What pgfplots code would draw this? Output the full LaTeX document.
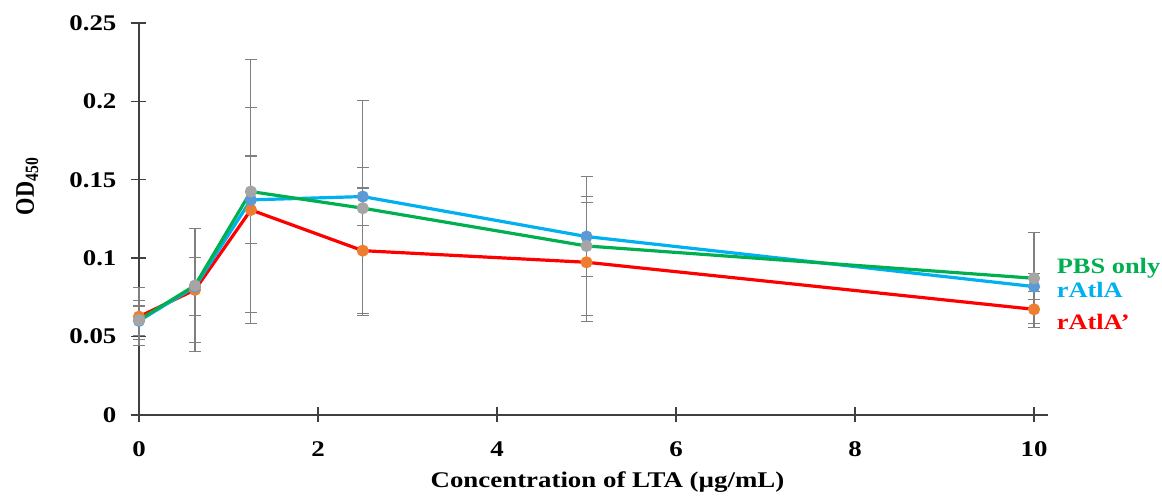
\documentclass[border=0pt]{standalone}
\usepackage{pgfplots}
\pgfplotsset{compat=1.18}
\usepackage{pgfplotstable}
\usepackage{fontspec}
\setmainfont[FakeStretch=1.2]{Liberation Serif}
\newfontfamily\plainserif[FakeStretch=0.833]{Liberation Serif}
\definecolor{lgreen}{HTML}{00B050}
\definecolor{lblue}{HTML}{00B0F0}
\definecolor{lred}{HTML}{FF0000}
\definecolor{mgray}{HTML}{A5A5A5}
\definecolor{mblue}{HTML}{5B9BD5}
\definecolor{morange}{HTML}{ED7D31}
\definecolor{egray}{HTML}{7F7F7F}
\pgfplotstableread{
x y e
0 0.0606 0.0125
0.625 0.0826 0.0363
1.25 0.1425 0.0842
2.5 0.1319 0.0687
5 0.1078 0.0442
10 0.0872 0.0290
}\pbs
\pgfplotstableread{
x y e
0 0.0600 0.0095
0.625 0.0818 0.0185
1.25 0.1372 0.0280
2.5 0.1393 0.0185
5 0.1138 0.0255
10 0.0819 0.0082
}\ratla
\pgfplotstableread{
x y e
0 0.0627 0.0186
0.625 0.0798 0.0393
1.25 0.1308 0.0655
2.5 0.1048 0.0400
5 0.0974 0.0380
10 0.0674 0.0114
}\ratlap
\begin{document}
\begin{tikzpicture}
\useasboundingbox (-69.5pt,-41pt) rectangle (511.5pt,207.5pt);
\begin{axis}[
  at={(0,0)}, anchor=south west,
  scale only axis, width=454.5pt, height=196pt,
  xmin=0, xmax=10.156, ymin=0, ymax=0.25,
  axis x line=bottom, axis y line=left,
  axis line style={-, black!75, line width=0.7pt},
  xtick={0,2,4,6,8,10}, ytick={0,0.05,0.1,0.15,0.2,0.25},
  tick align=center, major tick length=7.5pt,
  tick style={black!75, line width=0.7pt},
  /pgf/number format/assume math mode=true,
  yticklabel style={/pgf/number format/fixed, /pgf/number format/precision=2},
  ticklabel style={font=\bfseries\fontsize{11.2}{13}\selectfont},
  xticklabel style={yshift=-6pt},
  yticklabel style={xshift=-4pt},
  xlabel={Concentration of LTA (µg/mL)},
  ylabel={OD\textsubscript{450}},
  label style={font=\bfseries\fontsize{11.2}{13}\selectfont},
  xlabel style={at={(axis description cs:0.5,0)}, anchor=base, yshift=-36.5pt, xshift=7pt},
  ylabel style={at={(axis description cs:-0.123,0.584)}, anchor=center, font=\plainserif\bfseries\fontsize{13.4}{15}\selectfont},
  clip=false,
  error bars/y dir=both, error bars/y explicit,
  error bars/error bar style={egray, line width=0.6pt},
  error bars/error mark options={egray, rotate=90, mark size=3pt, line width=0.6pt},
]
\addplot[lred, line width=1.6pt, mark=*, mark size=2.2pt, mark options={fill=morange, draw=morange}] table[x=x, y=y, y error=e] {\ratlap};
\addplot[lblue, line width=1.6pt, mark=*, mark size=2.2pt, mark options={fill=mblue, draw=mblue}] table[x=x, y=y, y error=e] {\ratla};
\addplot[lgreen, line width=1.6pt, mark=*, mark size=2.2pt, mark options={fill=mgray, draw=mgray}] table[x=x, y=y, y error=e] {\pbs};
\node[anchor=west, text=lgreen, font=\bfseries\fontsize{11}{13}\selectfont, inner sep=0pt] at (axis cs:10.25,0.0938) {PBS only};
\node[anchor=west, text=lblue, font=\bfseries\fontsize{11}{13}\selectfont, inner sep=0pt] at (axis cs:10.25,0.0798) {rAtlA};
\node[anchor=west, text=lred, font=\bfseries\fontsize{11}{13}\selectfont, inner sep=0pt] at (axis cs:10.25,0.0594) {rAtlA’};
\end{axis}
\end{tikzpicture}
\end{document}
